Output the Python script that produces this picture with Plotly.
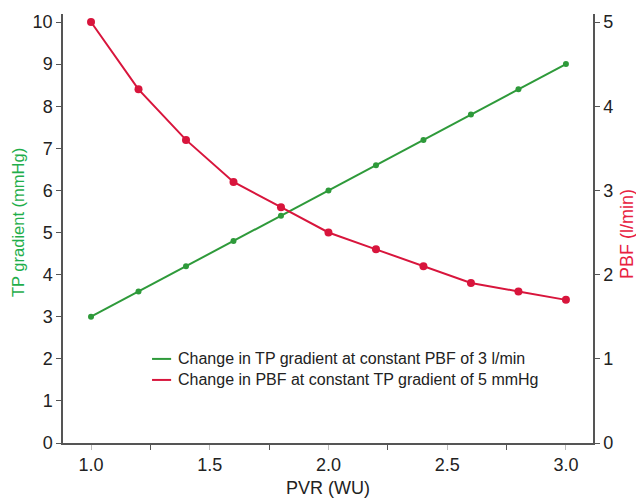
import plotly.graph_objects as go

pvr = [1.0, 1.2, 1.4, 1.6, 1.8, 2.0, 2.2, 2.4, 2.6, 2.8, 3.0]
tp_gradient = [3.0, 3.6, 4.2, 4.8, 5.4, 6.0, 6.6, 7.2, 7.8, 8.4, 9.0]
pbf = [5.0, 4.2, 3.6, 3.1, 2.8, 2.5, 2.3, 2.1, 1.9, 1.8, 1.7]

x_ticks = [1.0, 1.5, 2.0, 2.5, 3.0]
x_ticklabels = ["1.0", "1.5", "2.0", "2.5", "3.0"]
left_ticks = list(range(0, 11))
right_ticks = list(range(0, 6))

GREEN = "#2e9a3a"
RED = "#d8153c"
GREEN_TXT = "#1fae4b"
RED_TXT = "#e8213f"
FONT = "Liberation Sans, Arial, sans-serif"
TXT = "#222"

legend_names = ["Change in TP gradient at constant PBF of 3 l/min",
                "Change in PBF at constant TP gradient of 5 mmHg"]
legend_colors = [GREEN, RED]
left_title = "TP gradient (mmHg)"
right_title = "PBF (l/min)"
x_title = "PVR (WU)"

fig = go.Figure()
fig.add_trace(go.Scatter(
    x=pvr, y=tp_gradient, mode="lines+markers", name=legend_names[0],
    line=dict(color=GREEN, width=2), marker=dict(color=GREEN, size=6),
    showlegend=False, yaxis="y"))
fig.add_trace(go.Scatter(
    x=pvr, y=pbf, mode="lines+markers", name=legend_names[1],
    line=dict(color=RED, width=2), marker=dict(color=RED, size=8),
    showlegend=False, yaxis="y2"))

# manual legend (paper coordinates)
leg_rows_y = [0.196, 0.147]
for name, col, yy in zip(legend_names, legend_colors, leg_rows_y):
    fig.add_shape(type="line", xref="paper", yref="paper",
                  x0=0.168, x1=0.204, y0=yy, y1=yy,
                  line=dict(color=col, width=2))
    fig.add_annotation(xref="paper", yref="paper", x=0.213, y=yy,
                       xanchor="left", yanchor="middle", showarrow=False,
                       text=name, font=dict(size=16, color=TXT, family=FONT))

# y-axis titles as annotations
fig.add_annotation(xref="paper", yref="paper", x=-0.085, y=0.515,
                   xanchor="center", yanchor="middle", showarrow=False,
                   textangle=-90, text=left_title,
                   font=dict(size=16.5, color=GREEN_TXT, family=FONT))
fig.add_annotation(xref="paper", yref="paper", x=1.064, y=0.487,
                   xanchor="center", yanchor="middle", showarrow=False,
                   textangle=-90, text=right_title,
                   font=dict(size=18, color=RED_TXT, family=FONT))

fig.update_layout(
    width=636, height=492,
    margin=dict(l=55, r=51, t=6, b=57, autoexpand=False),
    paper_bgcolor="white", plot_bgcolor="white",
    font=dict(family=FONT, size=18, color=TXT),
    showlegend=False,
    xaxis=dict(range=[0.882, 3.114], tickvals=x_ticks, ticktext=x_ticklabels,
               ticks="outside", ticklen=5, tickcolor="#bbbbbb", showgrid=False,
               zeroline=False, showline=True, linecolor="#555", linewidth=1.5,
               automargin=False,
               minor=dict(dtick=0.25, tick0=1.0, ticks="outside", ticklen=5,
                          tickcolor="#555", showgrid=False),
               title=dict(text=x_title, font=dict(size=18, color=TXT), standoff=7),
               tickfont=dict(size=18, color=TXT)),
    yaxis=dict(range=[0, 10.19], tickvals=left_ticks, ticks="outside", ticklen=5,
               tickcolor="#555", showgrid=False, zeroline=False, showline=True,
               linecolor="#555", linewidth=1.5, automargin=False,
               tickfont=dict(size=18, color=TXT)),
    yaxis2=dict(range=[0, 5.095], tickvals=right_ticks, ticks="outside", ticklen=5,
                tickcolor="#555", overlaying="y", side="right", showgrid=False,
                zeroline=False, showline=True, linecolor="#555", linewidth=1.5,
                automargin=False,
                tickfont=dict(size=18, color=TXT)),
)

fig.write_html("out.html")
